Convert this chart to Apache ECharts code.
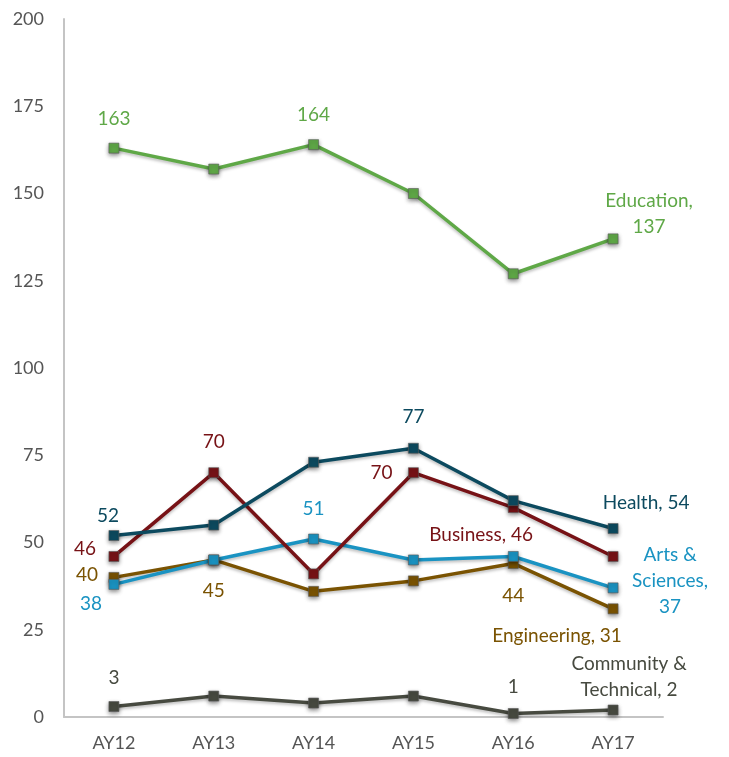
<!DOCTYPE html>
<html>
<head>
<meta charset="utf-8">
<script src="https://cdn.jsdelivr.net/npm/echarts@6/dist/echarts.min.js"></script>
<style>html,body{margin:0;padding:0;background:#fff}#c{width:729px;height:757px}</style>
</head>
<body>
<div id="c"></div>
<script>
const categories = ['AY12','AY13','AY14','AY15','AY16','AY17'];
const yTicks = [0, 25, 50, 75, 100, 125, 150, 175, 200];
const community = [3, 6, 4, 6, 1, 2];
const engineering = [40, 45, 36, 39, 44, 31];
const arts = [38, 45, 51, 45, 46, 37];
const business = [46, 70, 41, 70, 60, 46];
const health = [52, 55, 73, 77, 62, 54];
const education = [163, 157, 164, 150, 127, 137];

const FONT = 'Lato';
// label placements: [index, text, offsetX, offsetY]
function mk(values, color, name, labels) {
  const data = values.map((v, i) => {
    const l = labels.find(x => x[0] === i);
    if (!l) return { value: v };
    return {
      value: v,
      label: {
        show: true,
        position: 'inside',
        align: 'center',
        verticalAlign: 'middle',
        offset: [l[2], l[3]],
        formatter: l[1],
        color: color,
        fontFamily: FONT,
        fontSize: 19,
        lineHeight: 26
      }
    };
  });
  return {
    name: name,
    type: 'line',
    data: data,
    symbol: 'rect',
    symbolSize: 10,
    lineStyle: { color: color, width: 3.5, shadowColor: 'rgba(0,0,0,0.25)', shadowBlur: 3, shadowOffsetY: 2 },
    itemStyle: { color: color, borderColor: 'rgba(90,90,90,0.6)', borderWidth: 1, shadowColor: 'rgba(0,0,0,0.45)', shadowBlur: 4, shadowOffsetY: 2 },
    emphasis: { disabled: true },
    animation: false
  };
}

const chart = echarts.init(document.getElementById('c'));
chart.setOption({
  backgroundColor: '#fff',
  grid: { left: 64, right: 66, top: 19, bottom: 40, containLabel: false },
  xAxis: {
    type: 'category',
    data: categories,
    boundaryGap: true,
    axisLine: { lineStyle: { color: '#c4c4c4', width: 2 } },
    axisTick: { show: false },
    axisLabel: { color: '#555', fontFamily: FONT, fontSize: 18, margin: 17 }
  },
  yAxis: {
    type: 'value',
    min: yTicks[0],
    max: yTicks[yTicks.length - 1],
    interval: 25,
    axisLine: { show: true, lineStyle: { color: '#c4c4c4', width: 2 } },
    axisTick: { show: false },
    splitLine: { show: false },
    axisLabel: { color: '#555', fontFamily: FONT, fontSize: 18, margin: 20 }
  },
  series: [
    mk(community, '#474a40', 'Community & Technical', [[0, '3', 0, -29], [4, '1', 0, -27], [5, 'Community &\nTechnical, 2', 16, -33]]),
    mk(engineering, '#7a5302', 'Engineering', [[0, '40', -27, -3], [1, '45', 0, 31], [4, '44', 0, 32], [5, 'Engineering, 31', -56, 27]]),
    mk(arts, '#1a93c2', 'Arts & Sciences', [[0, '38', -23, 19], [2, '51', 0, -30], [5, 'Arts &\nSciences,\n37', 57, -7]]),
    mk(business, '#771216', 'Business', [[0, '46', -29, -8], [1, '70', 0, -31], [3, '70', -32, 0], [5, 'Business, 46', -132, -22]]),
    mk(health, '#0c4a5f', 'Health', [[0, '52', -6, -20], [3, '77', 0, -31], [5, 'Health, 54', 33, -26]]),
    mk(education, '#5fa847', 'Education', [[0, '163', 0, -29], [2, '164', 0, -30], [5, 'Education,\n137', 36, -25]])
  ]
});
</script>
</body>
</html>
